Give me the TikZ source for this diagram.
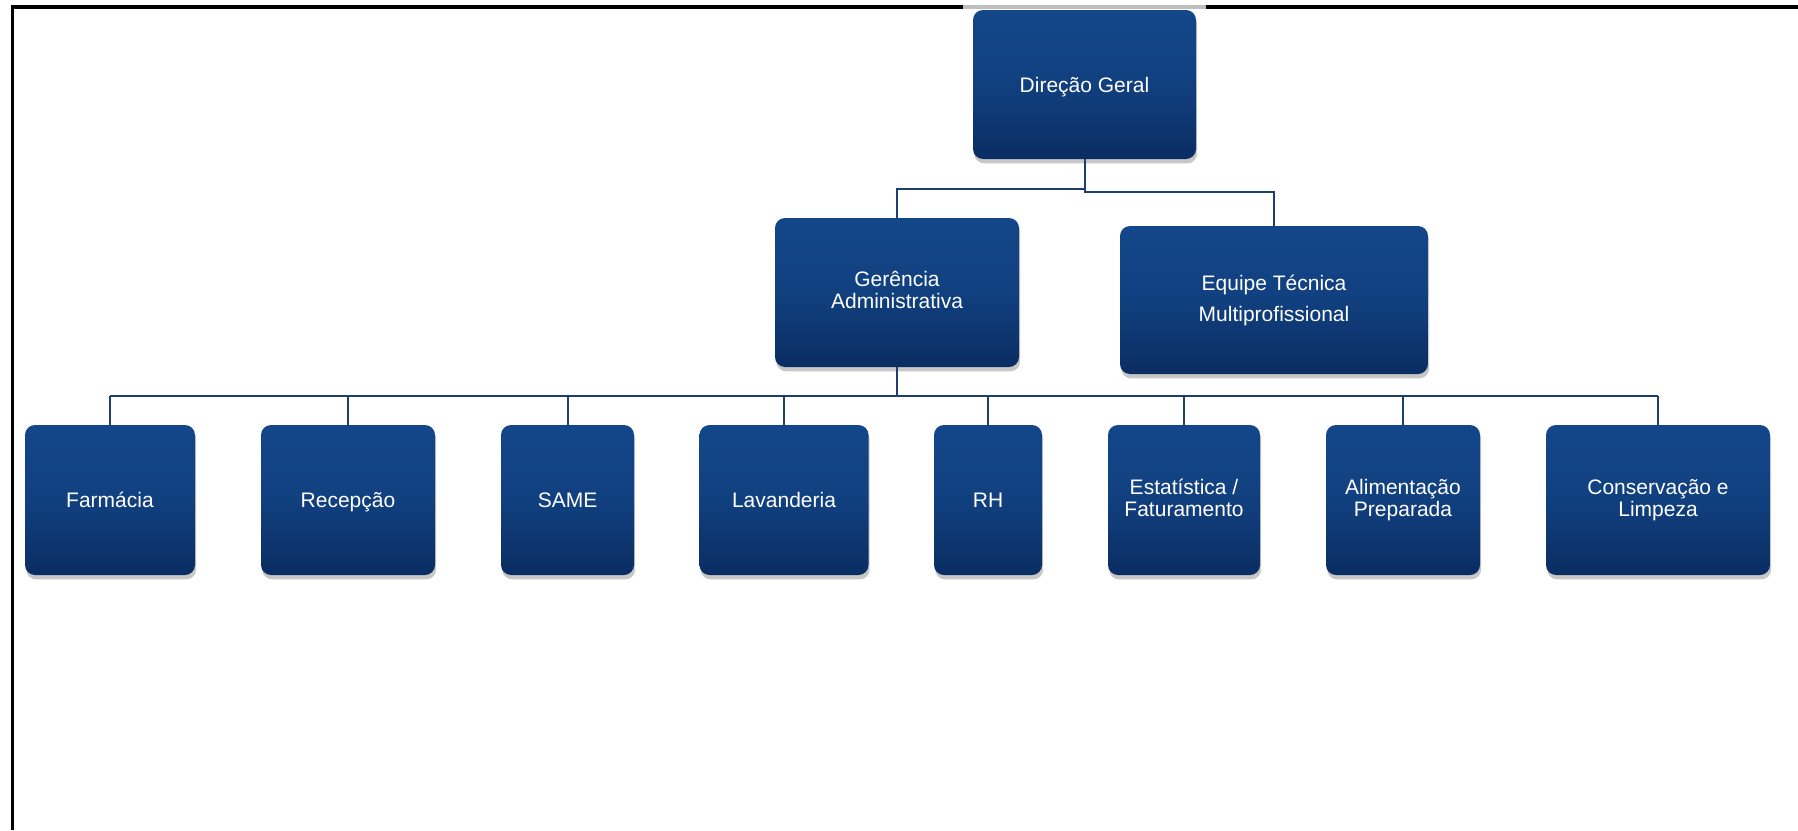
\documentclass[tikz,border=0pt]{standalone}
\usepackage{fontspec}
\setmainfont{Liberation Sans}
\usetikzlibrary{shadows,calc}
\definecolor{boxtop}{HTML}{13478A}
\definecolor{boxmid}{HTML}{11407F}
\definecolor{boxbot}{HTML}{0A2D62}
\definecolor{linkcol}{HTML}{1E3E6E}
\tikzset{
  orgbox/.style={rectangle, rounded corners=5pt, inner sep=0pt,
    top color=boxtop, bottom color=boxbot, middle color=boxmid,
    text=white, align=center, font=\fontsize{10.5}{11}\selectfont,
    drop shadow={shadow xshift=0.6pt, shadow yshift=-2.2pt, fill=black, opacity=0.22}},
  oneline/.style={text height=9.5pt, text depth=2pt},
  link/.style={draw=linkcol, line width=1pt},
  frame/.style={draw=black, line width=1.6pt}
}
\begin{document}
\begin{tikzpicture}[x=0.5pt,y=-0.5pt]
\useasboundingbox (0,0) rectangle (1798,830);
\fill[white] (0,0) rectangle (1798,830);
% frame
\draw[frame] (12.5,830) -- (12.5,7) -- (1798,7);
\draw[draw=black!25, line width=1.6pt] (963,7) -- (1206,7);

% top levels
\node[orgbox, oneline, minimum width=111.5pt, minimum height=74.5pt] (dg) at (1084.5,84.5) {Direção Geral};
\node[orgbox, minimum width=122pt, minimum height=74.5pt] (ger) at (897,292.5) {Gerência\\Administrativa\vphantom{p}};
\node[orgbox, minimum width=154pt, minimum height=74pt, font=\fontsize{10.5}{15.5}\selectfont] (eq) at (1274,300) {Equipe Técnica\\Multiprofissional};

% bottom row
\node[orgbox, oneline, minimum width=85pt, minimum height=75pt] (farm) at (110,500) {Farmácia};
\node[orgbox, oneline, minimum width=87pt, minimum height=75pt] (rec) at (348,500) {Recepção};
\node[orgbox, oneline, minimum width=66.5pt, minimum height=75pt] (same) at (567.5,500) {SAME};
\node[orgbox, oneline, minimum width=84.5pt, minimum height=75pt] (lav) at (784,500) {Lavanderia};
\node[orgbox, oneline, minimum width=54pt, minimum height=75pt] (rh) at (988,500) {RH};
\node[orgbox, minimum width=76pt, minimum height=75pt] (est) at (1184,500) {Estatística /\\Faturamento\vphantom{p}};
\node[orgbox, minimum width=77pt, minimum height=75pt] (ali) at (1403,500) {Alimentação\\Preparada};
\node[orgbox, minimum width=112pt, minimum height=75pt] (cons) at (1658,500) {Conservação e\\Limpeza};

% connectors top
\draw[link] (dg.south) -- (dg.south |- 0,192) -| (eq.north);
\draw[link] (dg.south |- 0,188.5) -| (ger.north);

% connectors bottom
\draw[link] (ger.south) -- (ger.south |- 0,396);
\draw[link, line width=1.3pt] (farm.north |- 0,396) -- (cons.north |- 0,396);
\foreach \n in {farm,rec,same,lav,rh,est,ali,cons}{
  \draw[link] (\n.north) -- (\n.north |- 0,396);
}
\end{tikzpicture}
\end{document}
